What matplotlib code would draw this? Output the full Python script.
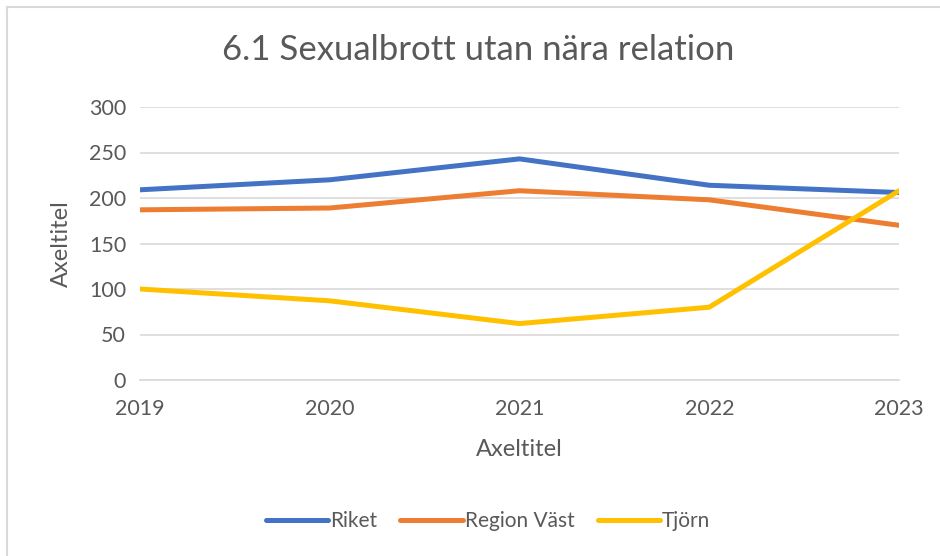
import matplotlib
matplotlib.use("Agg")
import matplotlib.pyplot as plt
from matplotlib.lines import Line2D

plt.rcParams['font.family'] = ['Lato', 'DejaVu Sans']

years = [2019, 2020, 2021, 2022, 2023]
riket = [209, 220, 243, 214, 206]
region_vast = [187, 189, 208, 198, 170]
tjorn = [100, 87, 62, 80, 208]

grey = '#595959'

fig = plt.figure(figsize=(9.4, 5.56), dpi=100)
ax = fig.add_axes([140 / 940, 1 - 380 / 556, 759 / 940, 273 / 556])

ax.plot(years, riket, color='#4472C4', linewidth=3.6, label='Riket', solid_capstyle='round')
ax.plot(years, region_vast, color='#ED7D31', linewidth=3.6, label='Region Väst', solid_capstyle='round')
ax.plot(years, tjorn, color='#FFC000', linewidth=3.6, label='Tjörn', solid_capstyle='round')

ax.set_xlim(2019, 2023)
ax.set_ylim(0, 300)
ax.set_xticks(years)
ax.set_yticks(range(0, 301, 50))
ax.grid(axis='y', color='#D9D9D9', linewidth=1.2)
ax.set_axisbelow(True)
for s in ['top', 'right', 'left']:
    ax.spines[s].set_visible(False)
ax.spines['bottom'].set_color('#D9D9D9')
ax.spines['bottom'].set_linewidth(1.2)
ax.tick_params(axis='both', length=0, colors=grey, labelsize=15.5)
ax.tick_params(axis='x', pad=14)
ax.tick_params(axis='y', pad=10)

ax.set_xlabel('Axeltitel', fontsize=17, color=grey, labelpad=14)
ax.set_ylabel('Axeltitel', fontsize=17, color=grey, labelpad=12)

fig.text(478 / 940, 1 - 50 / 556, '6.1 Sexualbrott utan nära relation', fontsize=25,
         color=grey, ha='center', va='center')

handles = [Line2D([0], [0], color=c, linewidth=3.6, solid_capstyle='round')
           for c in ['#4472C4', '#ED7D31', '#FFC000']]
fig.legend(handles, ['Riket', 'Region Väst', 'Tjörn'], loc='center',
           bbox_to_anchor=(488 / 940, 1 - 521 / 556), ncol=3, frameon=False,
           fontsize=15, labelcolor=grey, handlelength=3.0, handletextpad=0.1,
           columnspacing=1.1)

# chart border (only top and left edges visible in the crop)
fig.add_artist(Line2D([7 / 940, 7 / 940], [0, 1 - 7 / 556], color='#D9D9D9',
                      linewidth=1.5, transform=fig.transFigure))
fig.add_artist(Line2D([7 / 940, 1], [1 - 7 / 556, 1 - 7 / 556], color='#D9D9D9',
                      linewidth=1.5, transform=fig.transFigure))

fig.savefig('out.png', dpi=100)
